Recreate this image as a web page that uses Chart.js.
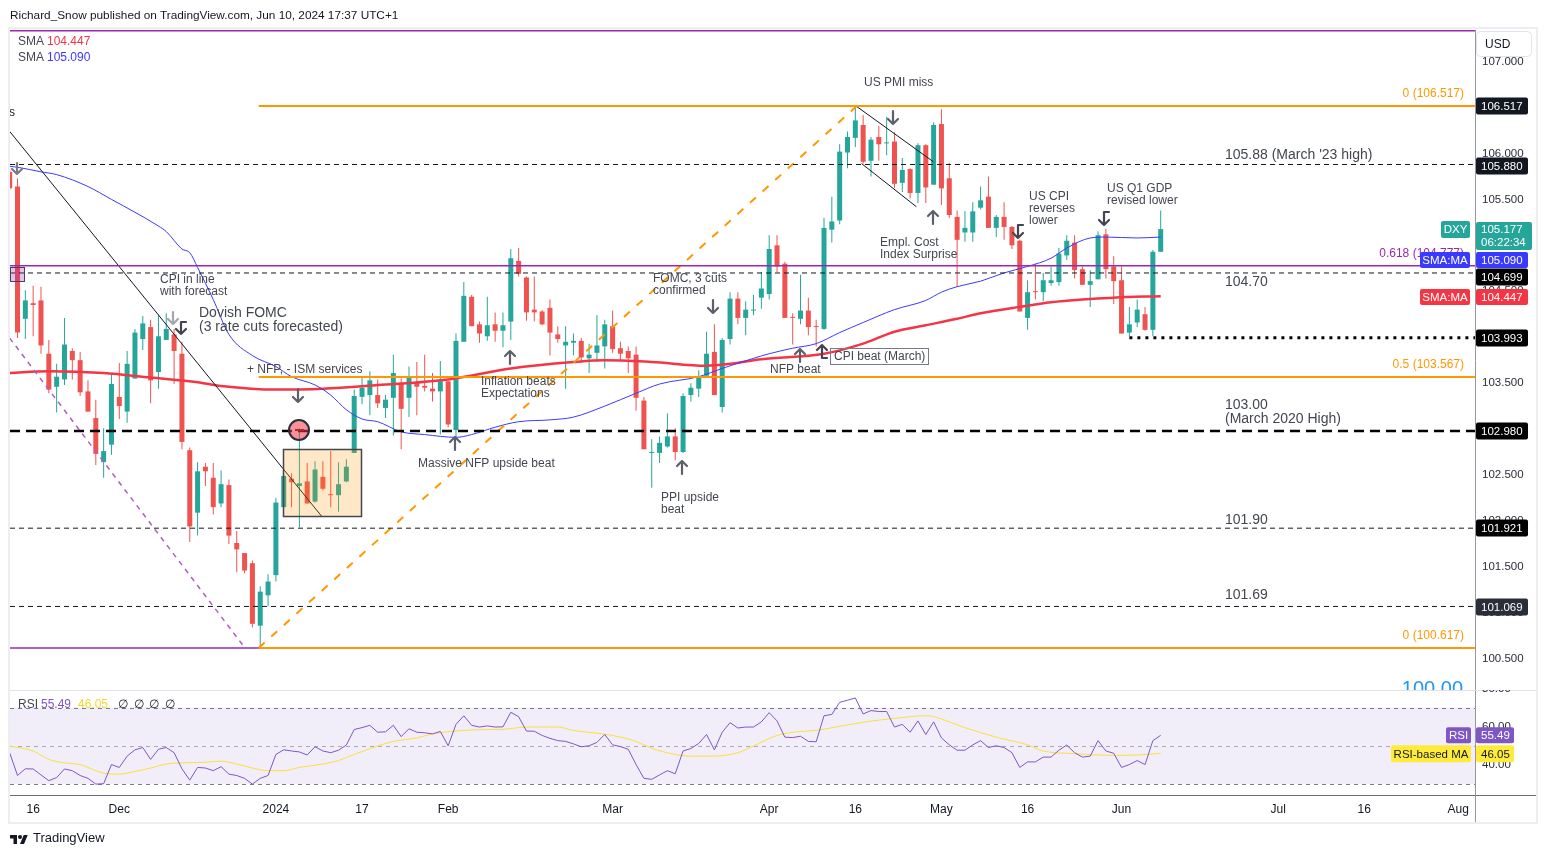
<!DOCTYPE html>
<html>
<head>
<meta charset="utf-8">
<title>DXY daily</title>
<script src="https://cdn.jsdelivr.net/npm/chart.js@4.4.1/dist/chart.umd.min.js"></script>
<style>
  html, body { margin: 0; padding: 0; background: #fff; }
  #wrap { position: relative; width: 1546px; height: 857px; overflow: hidden; font-family: "Liberation Sans", Arial, sans-serif; color: #131722; }
  #price { position: absolute; left: 0; top: 0; }
  #osc { position: absolute; left: 0; top: 690px; }
  #frame { position: absolute; left: 8px; top: 27px; width: 1530px; height: 797px; border: 2px solid #eceef2; box-sizing: border-box; pointer-events: none; }
  #head { position: absolute; left: 10px; top: 7px; font-size: 11.8px; line-height: 16px; white-space: nowrap; }
  #foot { position: absolute; left: 10px; top: 830px; font-size: 13px; line-height: 16px; display: flex; align-items: center; gap: 5px; }
</style>
</head>
<body>
<div id="wrap">
  <canvas id="price" width="1546" height="690"></canvas>
  <canvas id="osc" width="1546" height="167"></canvas>
  <div id="frame"></div>
  <div id="head">Richard_Snow published on TradingView.com, Jun 10, 2024 17:37 UTC+1</div>
  <div id="foot"><svg width="18" height="11" viewBox="0 0 36 22"><path fill="#131722" d="M14 22H7V11H0V4h14v18zM28 22h-8l7.5-18h8L28 22z"/><circle fill="#131722" cx="20" cy="8" r="4"/></svg><span>TradingView</span></div>
</div>
<script>
// daily DXY bars, 13 Nov 2023 -> 10 Jun 2024
const opens = [105.80,105.64,104.20,104.37,104.40,103.82,103.46,103.54,103.85,103.75,
  103.41,103.12,102.64,102.83,103.35,103.19,103.55,103.98,104.11,103.62,
  103.97,104.03,103.82,102.77,102.09,102.59,102.47,102.19,102.39,101.76,
  101.65,101.54,100.86,101.19,101.41,102.15,102.46,102.38,102.43,102.21,
  102.48,102.29,102.28,102.43,102.74,103.35,103.37,103.37,103.23,103.34,
  103.50,103.34,103.50,103.47,103.44,103.41,103.52,102.99,103.95,104.44,
  104.14,104.01,104.14,104.07,104.17,104.83,104.65,104.30,104.28,104.32,
  104.03,103.91,103.94,103.96,103.77,103.83,103.90,104.12,103.88,103.85,
  103.81,103.31,102.74,102.74,102.81,102.92,102.75,103.37,103.44,103.58,
  103.84,103.24,103.98,104.42,104.21,104.29,104.43,104.47,105.00,104.80,
  104.22,104.20,104.29,104.12,104.09,105.17,105.27,106.01,106.17,106.31,
  105.92,106.18,106.11,106.13,105.68,105.83,105.57,106.09,105.66,106.32,
  105.73,105.31,105.14,105.14,105.41,105.53,105.19,105.31,105.20,105.05,
  104.21,104.50,104.49,104.59,104.60,104.89,105.03,104.74,104.57,104.63,
  105.12,104.77,104.62,104.05,104.16,104.25,104.08,104.93];
const highs = [105.84,105.73,104.51,104.56,104.55,103.97,103.71,104.21,103.88,103.84,
  103.53,103.32,103.01,103.59,103.72,103.85,104.09,104.23,104.19,104.24,
  104.26,104.09,103.95,102.80,102.64,102.63,102.63,102.55,102.45,101.89,
  101.65,101.57,101.29,101.42,102.25,102.51,102.52,103.01,102.63,102.65,
  102.65,102.76,102.64,102.67,103.43,103.56,103.63,103.54,103.37,103.81,
  103.55,103.68,103.73,103.81,103.61,103.74,103.52,104.04,104.60,104.46,
  104.17,104.44,104.27,104.27,104.96,104.97,104.66,104.66,104.30,104.41,
  104.12,104.12,104.04,103.99,103.93,104.24,104.19,104.29,103.95,103.90,
  103.90,103.35,102.89,102.92,103.17,103.01,103.39,103.50,103.64,104.06,
  104.14,103.99,104.49,104.49,104.39,104.46,104.71,105.11,105.11,104.82,
  104.26,104.68,104.43,104.19,105.30,105.53,106.10,106.24,106.51,106.42,
  106.18,106.30,106.40,106.23,105.95,105.84,106.11,106.10,106.34,106.48,
  105.90,105.38,105.37,105.47,105.64,105.75,105.33,105.47,105.21,105.06,
  104.62,104.80,104.70,104.77,104.97,105.11,105.11,104.77,104.73,105.15,
  105.18,104.88,104.77,104.33,104.41,104.33,104.95,105.38];
const lows = [105.60,103.99,103.98,104.01,103.82,103.39,103.18,103.48,103.54,103.36,
  103.19,102.61,102.47,102.72,103.11,103.07,103.55,103.86,103.28,103.44,
  103.97,103.49,102.78,101.77,101.84,102.38,102.07,102.15,101.75,101.44,
  101.43,100.84,100.63,101.07,101.34,102.14,102.15,101.93,102.19,102.20,
  102.33,102.15,102.10,102.42,102.74,103.27,103.15,103.23,103.12,102.93,
  102.78,103.13,103.15,103.41,103.30,102.94,103.02,102.90,103.95,104.12,
  103.94,103.96,103.95,103.89,103.97,104.66,104.18,104.17,104.13,103.80,
  103.94,103.44,103.80,103.72,103.61,103.73,103.66,103.83,103.75,103.61,
  103.20,102.78,102.36,102.63,102.80,102.66,102.74,103.30,103.35,103.58,
  103.37,103.18,103.92,104.14,104.02,104.24,104.31,104.41,104.71,104.21,
  103.92,104.14,104.02,103.90,104.08,105.03,105.23,105.84,106.07,105.89,
  105.75,105.92,105.98,105.62,105.58,105.51,105.46,105.46,105.66,105.44,
  105.30,104.55,105.04,105.04,105.39,105.19,105.09,105.06,104.96,104.28,
  104.08,104.41,104.39,104.56,104.56,104.84,104.64,104.57,104.33,104.63,
  104.64,104.36,104.04,104.01,104.11,104.07,104.01,104.93];
const closes = [105.62,104.05,104.40,104.35,103.91,103.43,103.57,103.92,103.75,103.40,
  103.19,102.73,102.76,103.49,103.25,103.71,104.05,104.15,103.53,104.01,
  104.09,103.85,102.86,101.94,102.54,102.54,102.15,102.40,101.84,101.69,
  101.46,100.88,101.23,101.34,102.20,102.49,102.42,102.41,102.19,102.56,
  102.35,102.28,102.40,102.59,103.36,103.45,103.53,103.28,103.32,103.61,
  103.22,103.56,103.46,103.45,103.41,103.52,103.05,103.96,104.45,104.12,
  104.04,104.13,104.07,104.13,104.86,104.69,104.27,104.27,104.14,104.05,
  103.98,103.95,103.96,103.78,103.81,103.91,104.14,103.87,103.82,103.77,
  103.34,102.78,102.74,102.85,102.92,102.75,103.36,103.45,103.57,103.82,
  103.37,103.97,104.42,104.21,104.30,104.30,104.53,104.96,104.77,104.21,
  104.21,104.29,104.11,104.11,105.19,105.26,106.02,106.18,106.36,105.91,
  106.15,106.10,106.12,105.67,105.82,105.57,106.09,105.63,106.31,105.62,
  105.33,105.06,105.19,105.37,105.49,105.19,105.31,105.20,105.00,104.28,
  104.49,104.49,104.62,104.62,104.91,105.05,104.73,104.57,104.61,105.11,
  104.74,104.61,104.04,104.14,104.30,104.08,104.93,105.177];

// moving averages as [bar, value]
const smaFast = [[0,105.86],[1,105.85],[4,105.80],[6,105.77],[10,105.64],[13,105.50],[16,105.36],
  [19,105.21],[20,105.15],[22,104.96],[23,104.92],[24,104.76],[26,104.41],[28,104.03],[31,103.80],
  [34,103.68],[36,103.57],[39,103.48],[41,103.37],[43,103.21],[45,103.11],[47,103.08],[50,102.97],
  [53,102.94],[57,102.91],[59,102.94],[62,103.02],[65,103.08],[69,103.10],[72,103.13],[76,103.25],
  [80,103.39],[83,103.49],[88,103.57],[91,103.66],[95,103.77],[97,103.82],[100,103.88],[103,103.93],
  [106,104.05],[109,104.16],[113,104.30],[117,104.40],[119,104.49],[121,104.55],[124,104.61],
  [127,104.70],[130,104.77],[133,104.86],[135,104.97],[138,105.08],[140,105.09],[144,105.08],[147,105.090]];
const smaSlow = [[0,103.61],[5,103.63],[12,103.61],[18,103.56],[24,103.51],[27,103.47],[34,103.43],
  [40,103.44],[47,103.48],[56,103.54],[64,103.66],[72,103.73],[76,103.75],[82,103.73],[89,103.69],
  [92,103.71],[96,103.76],[104,103.82],[109,103.93],[113,104.06],[117,104.13],[121,104.20],
  [124,104.26],[129,104.33],[133,104.38],[137,104.41],[141,104.43],[147,104.447]];

// RSI(14) per bar and its moving average as [bar, value]
const rsi = [46.4,34.5,38.0,37.9,34.8,31.8,33.4,37.9,37.0,34.5,
  33.0,30.0,30.2,40.2,38.7,44.6,47.9,49.1,42.9,48.2,
  49.1,46.4,38.0,32.1,38.7,38.4,37.0,39.1,35.2,34.5,
  33.0,30.0,33.0,34.5,45.5,47.9,47.3,46.8,45.2,49.5,
  47.3,46.4,47.7,50.4,58.5,59.5,60.7,57.1,57.3,60.7,
  54.8,58.9,57.1,56.8,56.2,57.5,50.0,61.2,65.7,60.7,
  59.8,60.4,59.8,59.9,67.5,65.2,57.7,57.6,55.4,53.9,
  52.7,52.3,51.0,49.5,50.0,51.8,55.9,50.5,49.6,48.2,
  40.2,33.0,32.5,34.8,37.0,35.4,47.3,48.6,51.2,55.9,
  47.9,57.1,62.1,59.3,59.8,59.8,62.5,67.3,63.0,54.5,
  54.3,55.0,52.3,52.1,65.7,66.4,72.7,73.8,75.0,66.6,
  68.4,67.9,67.9,59.8,61.2,57.1,63.0,55.9,62.5,54.1,
  50.5,47.7,47.7,50.5,52.7,49.1,50.0,49.1,46.4,38.7,
  41.6,41.6,44.1,44.1,47.7,50.4,46.4,44.1,44.6,52.7,
  47.3,46.1,38.7,40.2,42.3,40.2,52.7,55.49];
const rsiMa = [[0,49.9],[3,47.3],[5,42.9],[7,41.1],[9,40.2],[10,38.7],[12,35.7],[14,35.2],[16,36.6],
  [18,38.4],[20,40.5],[22,41.1],[25,41.4],[27,42.0],[29,40.5],[31,38.4],[33,37.0],[35,37.0],[37,38.7],
  [40,40.5],[42,42.3],[44,45.5],[47,49.9],[49,52.3],[52,54.1],[54,56.2],[57,57.7],[60,58.4],[63,58.6],
  [66,59.8],[70,59.8],[72,58.0],[75,56.6],[77,55.4],[80,52.3],[82,48.7],[85,45.5],[87,44.6],[90,44.6],
  [93,46.4],[95,49.9],[98,55.4],[101,57.5],[103,58.0],[106,60.2],[110,62.9],[113,64.3],[117,65.7],
  [118,65.2],[122,59.5],[126,54.5],[130,50.5],[132,47.3],[136,45.9],[141,45.0],[144,45.2],[147,46.05]];

// drawn levels
const fibLevels = [106.517, 103.567, 100.617];
const fib618 = 104.777;
const fibCap = 107.335;
const blackLevels = [105.880, 104.699, 101.921, 101.069];
const keyLevel = 102.980;
const swingLow = 103.993;
const fibAnchors = [[31.8, 100.617], [108.2, 106.517]];
const downTrend = [[0, 106.24], [39.85, 102.05]];
const purpleTrend = [[0, 103.99], [30.05, 100.617]];
const flagTop = [[108.2, 106.51], [117.96, 105.91]];
const flagBottom = [[108.8, 105.89], [115.8, 105.42]];

// axes
const timeTicks = [[3,'16'],[14,'Dec'],[34,'2024'],[45,'17'],[56,'Feb'],[77,'Mar'],[97,'Apr'],
  [108,'16'],[119,'May'],[130,'16'],[142,'Jun'],[162,'Jul'],[173,'16'],[185,'Aug']];
const priceTicks = [100.5,101,101.5,102,102.5,103,103.5,104,104.5,105,105.5,106,106.5,107];
const rsiTicks = [40, 60];

const FAM = '"Liberation Sans", Arial, sans-serif';
const f = (s, w) => (w ? w + ' ' : '') + s + 'px ' + FAM;
Chart.defaults.font.family = FAM;

const xMin = 0.042, xMax = 187.14;
const yMin = 100.1595, yMax = 107.344;
const rMin = 24.31, rMax = 79.14;
const UP = '#26a69a', DOWN = '#ef5350', ORANGE = '#ff9800', PURPLE = '#9c27b0';
const BLUE = '#3a3aff', RED = '#f23645', TXT = '#434651';

const last = closes.length - 1;
const candleColor = c => closes[c.dataIndex] >= opens[c.dataIndex] ? UP : DOWN;
const pts = a => a.map(p => ({ x: p[0], y: p[1] }));
const flat = (p, a, b) => [{ x: a, y: p }, { x: b, y: p }];

function lineSet(data, color, width, dash, order) {
  return { type: 'line', data, borderColor: color, borderWidth: width, borderDash: dash || [],
    pointRadius: 0, fill: false, tension: 0, order: order == null ? 1 : order };
}

function arrow(ctx, x, y1, y2, up, color, hook) {
  ctx.save();
  ctx.strokeStyle = color; ctx.lineWidth = 2.2; ctx.lineCap = 'round'; ctx.lineJoin = 'round';
  ctx.beginPath();
  ctx.moveTo(x, y1); ctx.lineTo(x, y2);
  const tip = up ? y1 : y2, d = up ? 5 : -5;
  ctx.moveTo(x - 5, tip + d); ctx.lineTo(x, tip); ctx.lineTo(x + 5, tip + d);
  if (hook) {
    const base = up ? y2 : y1;
    ctx.moveTo(x, base); ctx.lineTo(x + 5, base);
  }
  ctx.stroke();
  ctx.restore();
}

function tag(ctx, x, y, w, h, bg, lines, fg, center) {
  ctx.fillStyle = bg;
  ctx.beginPath(); ctx.roundRect(x, y, w, h, 2); ctx.fill();
  ctx.fillStyle = fg; ctx.textBaseline = 'middle';
  ctx.textAlign = center ? 'center' : 'left';
  const tx = center ? x + w / 2 : x + 5;
  if (lines.length === 1) ctx.fillText(lines[0], tx, y + h / 2 + 0.5);
  else { ctx.fillText(lines[0], tx, y + 7.5); ctx.fillText(lines[1], tx, y + 21); }
  ctx.textAlign = 'left';
}

const notes = [
  ['CPI in line', 160, 280], ['with forecast', 160, 292],
  ['+ NFP, - ISM services', 247, 370],
  ['Inflation beats', 481, 382], ['Expectations', 481, 394],
  ['Massive NFP upside beat', 418, 464],
  ['FOMC, 3 cuts', 653, 279], ['confirmed', 653, 291],
  ['PPI upside', 661, 498], ['beat', 661, 510],
  ['NFP beat', 770, 370],
  ['US PMI miss', 864, 83],
  ['Empl. Cost', 880, 243], ['Index Surprise', 880, 255],
  ['US CPI', 1029, 197], ['reverses', 1029, 209], ['lower', 1029, 221],
  ['US Q1 GDP', 1107, 189], ['revised lower', 1107, 201]
];
const bigNotes = [
  ['Dovish FOMC', 199, 313], ['(3 rate cuts forecasted)', 199, 327],
  ["105.88 (March '23 high)", 1225, 155], ['104.70', 1225, 282],
  ['103.00', 1225, 405], ['(March 2020 High)', 1225, 419],
  ['101.90', 1225, 520], ['101.69', 1225, 595]
];
const marks = [
  [17, 163, 174, false, '#787b86', false], [173, 312, 324, false, '#a3a6af', false],
  [181, 322, 334, false, '#434651', true], [298, 389, 402, false, '#5d606b', false],
  [455, 437, 450, true, '#5d606b', false], [510, 351, 364, true, '#5d606b', false],
  [713, 300, 313, false, '#5d606b', false], [682, 461, 474, true, '#5d606b', false],
  [800, 349, 362, true, '#5d606b', false], [822, 345, 358, true, '#434651', true],
  [893, 111, 124, false, '#5d606b', false], [933, 211, 224, true, '#5d606b', false],
  [1018, 225, 238, false, '#434651', true], [1104, 212, 225, false, '#434651', true]
];

const priceDeco = {
  id: 'priceDeco',
  afterDatasetsDraw(chart) {
    const ctx = chart.ctx;
    ctx.save();
    // shaded event box
    ctx.fillStyle = 'rgba(255,152,0,0.22)';
    ctx.fillRect(283, 449, 78, 67);
    ctx.strokeStyle = '#434651'; ctx.lineWidth = 1.5;
    ctx.strokeRect(283.5, 449.5, 78, 67);
    // small fib tag at the left edge
    ctx.fillStyle = 'rgba(156,39,176,0.28)'; ctx.fillRect(10, 267, 15, 15);
    ctx.strokeStyle = '#434651'; ctx.lineWidth = 1; ctx.strokeRect(10.5, 267.5, 14, 14);
    // red event circle
    ctx.beginPath(); ctx.arc(299, 430, 10, 0, Math.PI * 2);
    ctx.fillStyle = 'rgba(242,54,69,0.55)'; ctx.fill();
    ctx.lineWidth = 2; ctx.strokeStyle = '#2a2e39'; ctx.stroke();
    ctx.fillStyle = '#b22833'; ctx.fillRect(295, 429, 9, 2);

    marks.forEach(m => arrow(ctx, m[0], m[1], m[2], m[3], m[4], m[5]));

    ctx.textBaseline = 'middle'; ctx.fillStyle = TXT;
    ctx.font = f(12);
    notes.forEach(n => ctx.fillText(n[0], n[1], n[2]));
    ctx.font = f(14);
    bigNotes.forEach(n => ctx.fillText(n[0], n[1], n[2]));

    ctx.font = f(12);
    ctx.strokeStyle = '#787b86'; ctx.lineWidth = 1;
    ctx.strokeRect(830.5, 348.5, 98, 16);
    ctx.fillText('CPI beat (March)', 834, 357);

    ctx.fillStyle = '#131722'; ctx.fillText('s', 9, 113);

    // fib labels
    ctx.textAlign = 'right';
    ctx.fillStyle = ORANGE;
    ctx.fillText('0 (' + fibLevels[0].toFixed(3) + ')', 1464, 94);
    ctx.fillText('0.5 (' + fibLevels[1].toFixed(3) + ')', 1464, 365);
    ctx.fillText('0 (' + fibLevels[2].toFixed(3) + ')', 1464, 636);
    ctx.fillStyle = PURPLE;
    ctx.fillText('0.618 (' + fib618.toFixed(3) + ')', 1464, 254);
    ctx.fillStyle = '#2196f3'; ctx.font = f(20);
    ctx.textBaseline = 'alphabetic';
    ctx.fillText('100.00', 1463, 695);
    ctx.restore();
  },
  afterDraw(chart) {
    const ctx = chart.ctx;
    ctx.save();
    ctx.textBaseline = 'middle'; ctx.font = f(12);
    ctx.fillStyle = TXT; ctx.fillText('SMA', 18, 42); ctx.fillText('SMA', 18, 58);
    ctx.fillStyle = RED; ctx.fillText(smaSlow[smaSlow.length - 1][1].toFixed(3), 47, 42);
    ctx.fillStyle = BLUE; ctx.fillText(smaFast[smaFast.length - 1][1].toFixed(3), 47, 58);

    // currency button
    ctx.fillStyle = '#fff'; ctx.strokeStyle = '#e0e3eb'; ctx.lineWidth = 1;
    ctx.beginPath(); ctx.roundRect(1476.5, 31.5, 55, 25, 4); ctx.fill(); ctx.stroke();
    ctx.fillStyle = '#131722'; ctx.fillText('USD', 1485, 44.5);

    ctx.font = f(11.5);
    const boxes = [[106, fibLevels[0], '#131722'], [166, blackLevels[0], '#131722'],
      [277, blackLevels[1], '#000'], [338, swingLow, '#000'], [431, keyLevel, '#000'],
      [528, blackLevels[2], '#000'], [607, blackLevels[3], '#2a2e39']];
    boxes.forEach(b => tag(ctx, 1476, b[0] - 8.5, 52, 17, b[2], [b[1].toFixed(3)], '#fff'));
    tag(ctx, 1476, 222, 56, 28, UP, [closes[last].toFixed(3), '06:22:34'], '#fff');
    tag(ctx, 1441, 221, 29, 17, UP, ['DXY'], '#fff', true);
    tag(ctx, 1420, 252, 50, 16, BLUE, ['SMA:MA'], '#fff', true);
    tag(ctx, 1476, 252, 52, 16, BLUE, [smaFast[smaFast.length - 1][1].toFixed(3)], '#fff');
    tag(ctx, 1420, 289, 50, 16, RED, ['SMA:MA'], '#fff', true);
    tag(ctx, 1476, 289, 52, 16, RED, [smaSlow[smaSlow.length - 1][1].toFixed(3)], '#fff');
    ctx.restore();
  }
};

const priceSets = [
  { type: 'bar', data: closes.map((c, i) => ({ x: i, y: [lows[i], highs[i]] })), backgroundColor: candleColor,
    barThickness: 1, grouped: false, minBarLength: 1, inflateAmount: 0, order: 12 },
  { type: 'bar', data: closes.map((c, i) => ({ x: i, y: [opens[i], c] })), backgroundColor: candleColor,
    barThickness: 5, grouped: false, minBarLength: 1, inflateAmount: 0, order: 11 },
  Object.assign(lineSet(pts(smaSlow), RED, 2.5, [], 6), { cubicInterpolationMode: 'monotone' }),
  Object.assign(lineSet(pts(smaFast), BLUE, 1, [], 5), { cubicInterpolationMode: 'monotone' }),
  lineSet(flat(fibCap, xMin, xMax), PURPLE, 1.5),
  lineSet(flat(fib618, xMin, xMax), PURPLE, 1.5),
  lineSet(flat(fibLevels[2], xMin, fibAnchors[0][0]), PURPLE, 1.5),
  lineSet(flat(fibLevels[0], fibAnchors[0][0], xMax), ORANGE, 2),
  lineSet(flat(fibLevels[1], fibAnchors[0][0], xMax), ORANGE, 2),
  lineSet(flat(fibLevels[2], fibAnchors[0][0], xMax), ORANGE, 2),
  ...blackLevels.map(p => lineSet(flat(p, xMin, xMax), '#131722', 1, [5, 4])),
  lineSet(flat(keyLevel, xMin, xMax), '#000', 2.5, [10, 6]),
  lineSet(flat(swingLow, 143, xMax), '#000', 3, [3, 5]),
  lineSet(pts(fibAnchors), ORANGE, 2, [8, 9]),
  lineSet(pts(purpleTrend), '#b55ac4', 1.5, [5, 5]),
  lineSet(pts(downTrend), '#131722', 1),
  lineSet(pts(flagTop), '#131722', 1),
  lineSet(pts(flagBottom), '#131722', 1)
];

new Chart(document.getElementById('price'), {
  type: 'bar',
  data: { datasets: priceSets },
  options: {
    responsive: false, animation: false, events: [],
    layout: { padding: { left: 10, right: 10, top: 30, bottom: 0 } },
    plugins: { legend: { display: false }, tooltip: { enabled: false } },
    scales: {
      x: { type: 'linear', display: false, min: xMin, max: xMax, offset: false },
      y: { type: 'linear', position: 'right', min: yMin, max: yMax, beginAtZero: false,
        grid: { display: false, drawTicks: false }, border: { display: true, color: '#9598a1' },
        afterBuildTicks: s => { s.ticks = priceTicks.map(v => ({ value: v })); },
        afterFit: s => { s.width = 61; s.paddingTop = 0; s.paddingBottom = 0; },
        ticks: { padding: 7, color: '#2a2e39', font: { size: 11.5 }, callback: v => Number(v).toFixed(3) } }
    }
  },
  plugins: [priceDeco]
});

const rsiDeco = {
  id: 'rsiDeco',
  beforeDatasetsDraw(chart) {
    const { ctx, chartArea: a, scales: { y } } = chart;
    ctx.save();
    const t = y.getPixelForValue(70), b = y.getPixelForValue(30);
    ctx.fillStyle = 'rgba(126,87,194,0.1)';
    ctx.fillRect(a.left, t, a.right - a.left, b - t);
    ctx.lineWidth = 1;
    [[70, '#787b86'], [50, '#a8abb4'], [30, '#787b86']].forEach(l => {
      const py = Math.round(y.getPixelForValue(l[0])) + 0.5;
      ctx.strokeStyle = l[1]; ctx.setLineDash([4, 4]);
      ctx.beginPath(); ctx.moveTo(a.left, py); ctx.lineTo(a.right, py); ctx.stroke();
    });
    ctx.restore();
  },
  afterDraw(chart) {
    const { ctx, chartArea: a, scales: { y } } = chart;
    ctx.save();
    ctx.fillStyle = '#e0e3eb'; ctx.fillRect(10, 0, 1526, 1);
    ctx.fillStyle = '#6a6d78'; ctx.fillRect(10, a.bottom, 1526, 1);
    ctx.fillStyle = '#9598a1'; ctx.fillRect(1475, a.bottom, 1, 27);

    ctx.textBaseline = 'middle'; ctx.font = f(12);
    ctx.fillStyle = TXT; ctx.fillText('RSI', 18, 15);
    ctx.fillStyle = '#7e57c2'; ctx.fillText(rsi[last].toFixed(2), 41, 15);
    ctx.fillStyle = '#f2d730'; ctx.fillText(rsiMa[rsiMa.length - 1][1].toFixed(2), 78, 15);
    ctx.fillStyle = '#131722';
    [118, 134, 149, 165].forEach(x => ctx.fillText('\u2205', x, 15));

    ctx.font = f(11.5); ctx.fillStyle = '#2a2e39';
    ctx.fillText('80.00', 1482, y.getPixelForValue(80));

    const ry = y.getPixelForValue(rsi[last]);
    tag(ctx, 1446, ry - 8, 25, 16, '#7e57c2', ['RSI'], '#fff', true);
    tag(ctx, 1476, ry - 8, 38, 16, '#7e57c2', [rsi[last].toFixed(2)], '#fff');
    const my = y.getPixelForValue(rsiMa[rsiMa.length - 1][1]);
    tag(ctx, 1391, my - 8, 80, 17, '#ffeb3b', ['RSI-based MA'], '#131722', true);
    tag(ctx, 1476, my - 8, 38, 17, '#ffeb3b', [rsiMa[rsiMa.length - 1][1].toFixed(2)], '#131722');
    ctx.restore();
  }
};

new Chart(document.getElementById('osc'), {
  type: 'line',
  data: {
    datasets: [
      { data: pts(rsiMa), borderColor: '#f7e03c', borderWidth: 1, pointRadius: 0, cubicInterpolationMode: 'monotone', order: 2 },
      { data: rsi.map((v, i) => ({ x: i, y: v })), borderColor: '#7e57c2', borderWidth: 1, pointRadius: 0, tension: 0, order: 1 }
    ]
  },
  options: {
    responsive: false, animation: false, events: [],
    layout: { padding: { left: 10, right: 10, top: 0, bottom: 35 } },
    plugins: { legend: { display: false }, tooltip: { enabled: false } },
    scales: {
      x: { type: 'linear', min: xMin, max: xMax, offset: false,
        grid: { display: false, drawTicks: false }, border: { display: false },
        afterBuildTicks: s => { s.ticks = timeTicks.map(t => ({ value: t[0] })); },
        afterFit: s => { s.height = 27; s.paddingLeft = 0; s.paddingRight = 0; },
        ticks: { autoSkip: false, maxRotation: 0, padding: 7, color: '#131722', font: { size: 12 },
          callback: (v, i) => timeTicks[i] ? timeTicks[i][1] : '' } },
      y: { type: 'linear', position: 'right', min: rMin, max: rMax,
        grid: { display: false, drawTicks: false }, border: { display: true, color: '#9598a1' },
        afterBuildTicks: s => { s.ticks = rsiTicks.map(v => ({ value: v })); },
        afterFit: s => { s.width = 61; s.paddingTop = 0; s.paddingBottom = 0; },
        ticks: { padding: 7, color: '#2a2e39', font: { size: 11.5 }, callback: v => Number(v).toFixed(2) } }
    }
  },
  plugins: [rsiDeco]
});
</script>
</body>
</html>
